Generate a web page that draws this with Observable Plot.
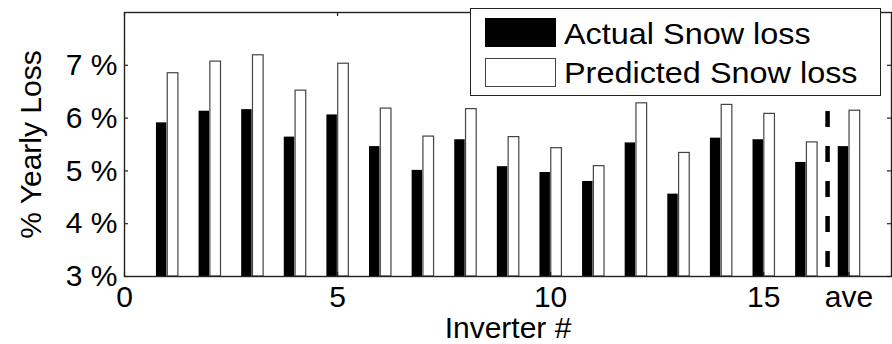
<!DOCTYPE html>
<html>
<head>
<meta charset="utf-8">
<script src="https://cdn.jsdelivr.net/npm/d3@7"></script>
<script src="https://cdn.jsdelivr.net/npm/@observablehq/plot@0.6"></script>
<style>
  html, body { margin: 0; padding: 0; background: #fff; }
  #wrap { position: relative; width: 892px; height: 344px; font-family: "Liberation Sans", Arial, Helvetica, sans-serif; }
  #legend { position: absolute; left: 470px; top: 8px; width: 409px; height: 86px; border: 1.3px solid #222; background: #fff; }
  .sw { position: absolute; left: 14px; width: 71px; height: 29px; box-sizing: border-box; }
  .lt { position: absolute; left: 93px; font-size: 30px; line-height: 30px; color: #000; white-space: nowrap; transform: scaleX(1.08); transform-origin: 0 50%; }
</style>
</head>
<body>
<div id="wrap">
  <div id="chart"></div>
  <div id="legend">
    <div class="sw" style="top:9px;background:#000;"></div>
    <div class="lt" style="top:10px;">Actual Snow loss</div>
    <div class="sw" style="top:49px;background:#fff;border:1.3px solid #444;"></div>
    <div class="lt" style="top:49px;">Predicted Snow loss</div>
  </div>
</div>
<script>
// ---- data ----
const categories = ["1","2","3","4","5","6","7","8","9","10","11","12","13","14","15","16","ave"];
const actual    = [5.91, 6.13, 6.16, 5.64, 6.06, 5.46, 5.01, 5.59, 5.08, 4.97, 4.80, 5.53, 4.56, 5.62, 5.59, 5.16, 5.46];
const predicted = [6.85, 7.07, 7.19, 6.52, 7.03, 6.18, 5.65, 6.17, 5.64, 5.43, 5.09, 6.28, 5.34, 6.25, 6.08, 5.54, 6.14];
const xTicks = [0, 5, 10, 15, 17];
const xTickLabels = ["0", "5", "10", "15", "ave"];
const yTicks = [3, 4, 5, 6, 7];
const separatorAt = [16.5];
const xDomain = [0, 18];
const yDomain = [3, 8];

const rows = categories.map((c, i) => ({cat: c, pos: i + 1, actual: actual[i], predicted: predicted[i]}));

const W = 892, H = 344;
const mL = 124, mR = 1, mT = 12, mB = 68;
const innerW = W - mL - mR, innerH = H - mT - mB;
const FONT = "Liberation Sans, Arial, Helvetica, sans-serif";
const fs = 30;
const tk = 4;

const chart = Plot.plot({
  width: W, height: H,
  marginLeft: mL, marginRight: mR, marginTop: mT, marginBottom: mB,
  style: {fontFamily: FONT, background: "#fff", color: "#000", overflow: "visible"},
  x: {type: "linear", domain: xDomain},
  y: {type: "linear", domain: yDomain},
  marks: [
    // bars
    Plot.rectY(rows, {x1: d => d.pos - 0.25, x2: d => d.pos - 0.005, y1: yDomain[0], y2: "actual", fill: "#000", clip: true}),
    Plot.rectY(rows, {x1: d => d.pos + 0.015, x2: d => d.pos + 0.265, y1: yDomain[0], y2: "predicted", fill: "#fff", stroke: "#444", strokeWidth: 1.2, clip: true}),
    // separator
    Plot.ruleX(separatorAt, {x: d => d, y1: yDomain[1], y2: yDomain[0], stroke: "#000", strokeWidth: 4.5, strokeDasharray: "16,19", strokeDashoffset: 6}),
    // inner ticks
    Plot.ruleX(xTicks, {x: d => d, insetTop: innerH - tk, stroke: "#222", strokeWidth: 1.2}),
    Plot.ruleX(xTicks, {x: d => d, insetBottom: innerH - tk, stroke: "#222", strokeWidth: 1.2}),
    Plot.ruleY(yTicks, {y: d => d, insetRight: innerW - tk, stroke: "#222", strokeWidth: 1.2}),
    Plot.ruleY(yTicks, {y: d => d, insetLeft: innerW - tk, stroke: "#222", strokeWidth: 1.2}),
    Plot.frame({stroke: "#222", strokeWidth: 1.4}),
    // axes labels
    Plot.axisX({ticks: xTicks, tickSize: 0, tickPadding: 9, tickFormat: d => xTickLabels[xTicks.indexOf(d)], fontSize: fs, label: null}),
    Plot.axisY({ticks: yTicks, tickSize: 0, tickPadding: 7, tickFormat: d => d + " %", fontSize: fs, label: null}),
    Plot.text(["Inverter #"], {frameAnchor: "bottom", dy: 52, lineAnchor: "middle", textAnchor: "middle", text: d => d, fontSize: fs, fill: "#000"}),
    Plot.text(["% Yearly Loss"], {frameAnchor: "left", dx: -93, rotate: -90, textAnchor: "middle", lineAnchor: "middle", text: d => d, fontSize: fs, fill: "#000"})
  ]
});
document.getElementById("chart").appendChild(chart);
</script>
</body>
</html>
